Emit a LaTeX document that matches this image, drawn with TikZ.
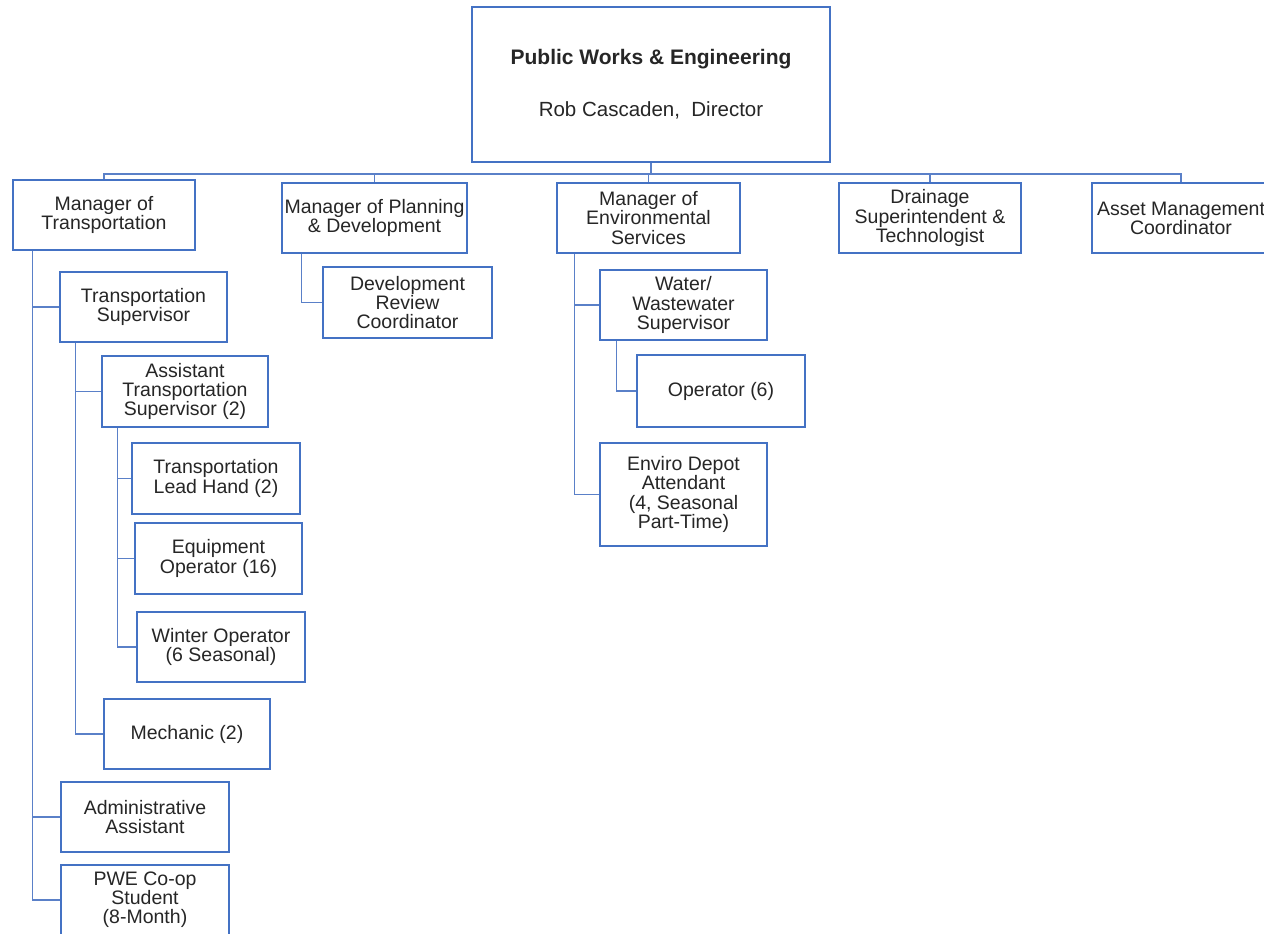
\documentclass[tikz,border=0pt]{standalone}
\usepackage{fontspec}
\setmainfont{Liberation Sans}
\usetikzlibrary{calc}
\definecolor{boxblue}{HTML}{4472C4}
\definecolor{lineblue}{HTML}{5A80C8}
\tikzset{
  orgbox/.style={draw=boxblue, line width=1.3pt, fill=white, inner sep=0pt, align=center,
    font={\fontsize{19.5}{19.2}\selectfont}, text=black!85},
  link/.style={draw=lineblue, line width=1.5pt}
}
\begin{document}
\begin{tikzpicture}[x=1pt, y=-1pt]
\fill[white] (0,0) rectangle (1264,934);
\useasboundingbox (0,0) rectangle (1264,934);

% top
\node[orgbox, minimum width=358, minimum height=155, font={\fontsize{20.5}{20}\selectfont}] (top) at (651,84.5)
  {{\fontsize{21}{20}\selectfont\bfseries Public Works \& Engineering}\\[32pt]Rob Cascaden,\ \ Director};

% level 1
\node[orgbox, minimum width=182, minimum height=70] (mt) at (104,215) {Manager of\\Transportation};
\node[orgbox, minimum width=185, minimum height=70] (mp) at (374.5,218) {Manager of Planning\\\& Development};
\node[orgbox, minimum width=183, minimum height=70] (me) at (648.5,218) {Manager of\\Environmental\\Services};
\node[orgbox, minimum width=182, minimum height=70] (dr) at (930,218) {Drainage\\Superintendent \&\\Technologist};
\node[orgbox, minimum width=178, minimum height=70] (am) at (1181,218) {Asset Management\\Coordinator};

% transportation branch
\node[orgbox, minimum width=167, minimum height=70] (ts) at (143.5,307) {Transportation\\Supervisor};
\node[orgbox, minimum width=166, minimum height=71] (ats) at (185,391.5) {Assistant\\Transportation\\Supervisor (2)};
\node[orgbox, minimum width=168, minimum height=71] (lh) at (216,478.5) {Transportation\\Lead Hand (2)};
\node[orgbox, minimum width=167, minimum height=71] (eo) at (218.5,558.5) {Equipment\\Operator (16)};
\node[orgbox, minimum width=168, minimum height=70] (wo) at (221,647) {Winter Operator\\(6 Seasonal)};
\node[orgbox, minimum width=166, minimum height=70] (mech) at (187,734) {Mechanic (2)};
\node[orgbox, minimum width=168, minimum height=70] (aa) at (145,817) {Administrative\\Assistant};
\node[orgbox, minimum width=168, minimum height=70] (pwe) at (145,900) {PWE Co-op\\Student\\(8-Month)};

% planning branch
\node[orgbox, minimum width=169, minimum height=71] (drc) at (407.5,302.5) {Development\\Review\\Coordinator};

% environmental branch
\node[orgbox, minimum width=167, minimum height=70] (ww) at (683.5,305) {Water/\\Wastewater\\Supervisor};
\node[orgbox, minimum width=168, minimum height=72] (op) at (721,391) {Operator (6)};
\node[orgbox, minimum width=167, minimum height=103] (ed) at (683.5,494.5) {Enviro Depot\\Attendant\\(4, Seasonal\\Part-Time)};

% bus
\coordinate (bus) at (0,174);
\foreach \c in {mt,mp,me,dr,am}{
  \draw[link] (top.south) -- (top.south |- bus) -| (\c.north);
}

% spines
\coordinate (s1) at ($(mt.south west)+(20,0)$);
\coordinate (s2) at ($(ts.south west)+(16,0)$);
\coordinate (s3) at ($(ats.south west)+(16,0)$);
\coordinate (s4) at ($(mp.south west)+(20,0)$);
\coordinate (s5) at ($(me.south west)+(18,0)$);
\coordinate (s6) at ($(ww.south west)+(17,0)$);

\foreach \c in {ts,aa,pwe}{ \draw[link] (s1) |- (\c.west); }
\foreach \c in {ats,mech}{ \draw[link] (s2) |- (\c.west); }
\foreach \c in {lh,eo,wo}{ \draw[link] (s3) |- (\c.west); }
\draw[link] (s4) |- (drc.west);
\foreach \c in {ww,ed}{ \draw[link] (s5) |- (\c.west); }
\draw[link] (s6) |- (op.west);
\end{tikzpicture}
\end{document}
